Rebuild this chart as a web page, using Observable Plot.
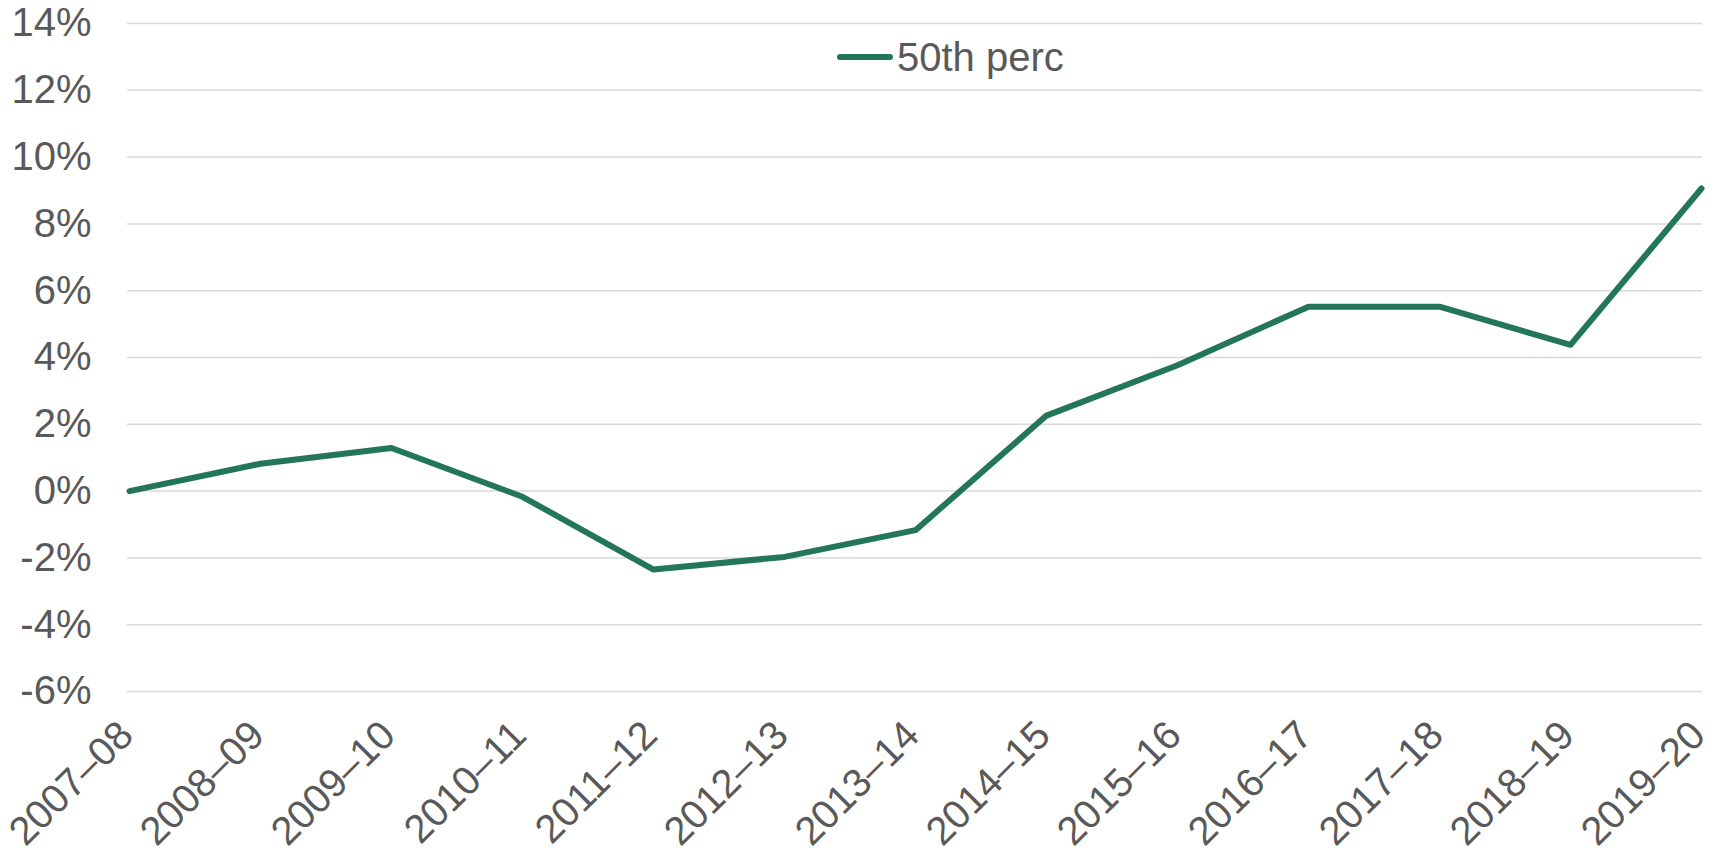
<!DOCTYPE html>
<html>
<head>
<meta charset="utf-8">
<script src="https://cdn.jsdelivr.net/npm/d3@7"></script>
<script src="https://cdn.jsdelivr.net/npm/@observablehq/plot@0.6"></script>
<style>
  html, body { margin: 0; padding: 0; background: #ffffff; }
  #wrap { position: relative; width: 1725px; height: 853px; font-family: "Liberation Sans", Arial, sans-serif; }
  #legend { position: absolute; left: 837px; top: 37px; display: flex; align-items: center; color: #595959; font-size: 40px; line-height: 1; }
  #legend .swatch { width: 56px; height: 6px; border-radius: 3px; background: #237757; margin-right: 4px; }
</style>
</head>
<body>
<div id="wrap"><div id="legend"><span class="swatch"></span><span>50th perc</span></div></div>
<script>
const categories = ["2007–08","2008–09","2009–10","2010–11","2011–12","2012–13","2013–14","2014–15","2015–16","2016–17","2017–18","2018–19","2019–20"];
const values = [0, 0.82, 1.29, -0.17, -2.35, -1.97, -1.17, 2.26, 3.77, 5.52, 5.52, 4.38, 9.06];
const seriesName = "50th perc";
const yTicks = [-6, -4, -2, 0, 2, 4, 6, 8, 10, 12, 14];

const data = categories.map((c, i) => ({category: c, value: values[i], series: seriesName}));

const chart = Plot.plot({
  width: 1725,
  height: 853,
  marginLeft: 127,
  marginRight: 23,
  marginTop: 23,
  marginBottom: 162,
  style: {fontFamily: "'Liberation Sans', Arial, sans-serif", color: "#595959", background: "#ffffff"},
  x: {type: "point", domain: categories, padding: 0, axis: null},
  y: {domain: [-6, 14], ticks: yTicks, axis: null},
  marks: [
    Plot.gridY(yTicks, {stroke: "#d9d9d9", strokeOpacity: 1, strokeWidth: 1.5}),
    Plot.axisY(yTicks, {tickSize: 0, tickPadding: 36, fontSize: 40, fill: "#595959", label: null, tickFormat: d => `${d}%`}),
    Plot.text(categories, {x: d => d, frameAnchor: "bottom", rotate: -45, textAnchor: "end", lineAnchor: "bottom", dx: 6, dy: 46, fontSize: 40, fill: "#595959"}),
    Plot.line(data, {x: "category", y: "value", stroke: "#237757", strokeWidth: 6, strokeLinejoin: "round", strokeLinecap: "round"})
  ]
});
document.getElementById("wrap").prepend(chart);
</script>
</body>
</html>
